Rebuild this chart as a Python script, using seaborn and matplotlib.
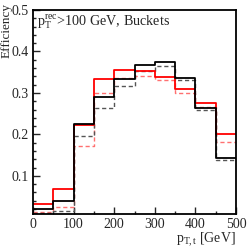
import numpy as np
import matplotlib
matplotlib.use('Agg')
import matplotlib.pyplot as plt
from matplotlib.ticker import MultipleLocator
import seaborn as sns

# bin edges in pT [GeV]
bin_edges = [0, 50, 100, 150, 200, 250, 300, 350, 400, 450, 500]
bin_centers = [25, 75, 125, 175, 225, 275, 325, 375, 425, 475]

# efficiencies
red_solid = [0.031, 0.069, 0.222, 0.333, 0.355, 0.352, 0.339, 0.309, 0.275, 0.201]
red_dashed = [0.012, 0.025, 0.172, 0.299, 0.336, 0.341, 0.331, 0.299, 0.266, 0.182]
black_solid = [0.019, 0.039, 0.224, 0.291, 0.333, 0.367, 0.374, 0.337, 0.263, 0.142]
gray_dashed = [0.010, 0.015, 0.196, 0.264, 0.316, 0.352, 0.364, 0.330, 0.259, 0.139]

sns.set_style('ticks')
plt.rcParams['font.family'] = ['Liberation Serif', 'DejaVu Serif']
plt.rcParams['mathtext.fontset'] = 'custom'
plt.rcParams['mathtext.rm'] = 'Liberation Serif'
plt.rcParams['mathtext.it'] = 'Liberation Serif:italic'

fig = plt.figure(figsize=(2.48, 2.49), dpi=100)
ax = fig.add_axes([33 / 248, 1 - 214 / 249, 203 / 248, 204 / 249])

series = [
    (red_dashed, '#ff7070', (0, (3, 2)), 1.0),
    (gray_dashed, '#555555', (0, (3, 2)), 1.0),
    (red_solid, '#ff0000', '-', 1.3),
    (black_solid, '#000000', '-', 1.3),
]
for vals, col, ls, lw in series:
    sns.histplot(x=bin_centers, weights=vals, bins=bin_edges, element='step',
                 fill=False, color=col, linestyle=ls, linewidth=lw, ax=ax)

ax.set_xlim(0, 500)
ax.set_ylim(0.008, 0.5)
ax.xaxis.set_major_locator(MultipleLocator(100))
ax.xaxis.set_minor_locator(MultipleLocator(50))
ax.yaxis.set_minor_locator(MultipleLocator(0.02))
ax.set_yticks([0.1, 0.2, 0.3, 0.4, 0.5])
ax.set_yticklabels(['0.1', '0.2', '0.3', '0.4', '0.5'])
ax.tick_params(which='both', direction='in', labelsize=10, pad=3, width=1)
ax.tick_params(which='major', length=5)
ax.tick_params(which='minor', length=2.5)
ax.set_xlabel('')
ax.set_ylabel('')
for sp in ax.spines.values():
    sp.set_linewidth(1.3)
    sp.set_color('black')

ax.text(0.02, 0.94, r'$\mathrm{p_{T}^{rec}}$>100 GeV, Buckets', transform=ax.transAxes,
        fontsize=10.2, ha='left', va='center')
fig.text(7 / 248, 1 - 3 / 249, 'Efficiency', rotation=90, ha='center', va='top', fontsize=9.5)
fig.text(236 / 248, 1 - 240 / 249, r'$\mathrm{p_{T,t}}$ [GeV]', ha='right', va='center', fontsize=10)

fig.savefig('out.png', dpi=100)
